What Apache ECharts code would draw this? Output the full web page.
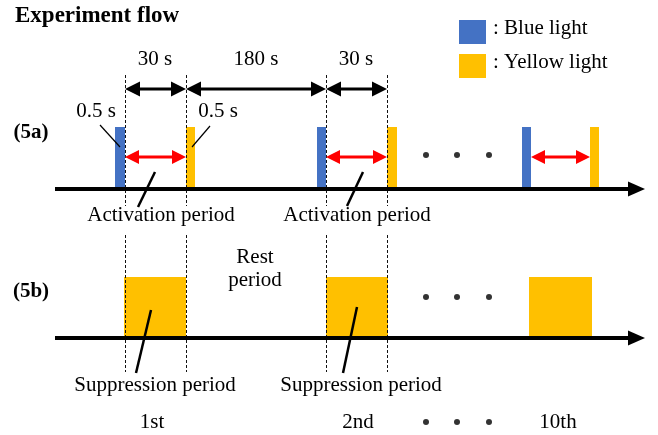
<!DOCTYPE html>
<html><head><meta charset="utf-8">
<script src="https://cdn.jsdelivr.net/npm/echarts@6/dist/echarts.min.js"></script>
<style>html,body{margin:0;padding:0;background:#fff}#c{width:658px;height:435px}</style>
</head><body><div id="c"></div>
<script>
// Schematic diagram: x = schematic timeline position, y = vertical level (downward)
const bluePulses = [[115, 125, 127, 188], [317, 326, 127, 188], [522, 531, 127, 188]];
const yellowPulses = [[186, 195, 127, 188], [387, 397, 127, 188], [590, 599, 127, 188]];
const suppressionBlocks = [[124, 186, 277, 338], [326, 388, 277, 338], [529, 592, 277, 338]];
const timelines = [[55, 645, 189], [55, 645, 338]];
const dashedMarks = [[125, 75, 206], [186, 75, 206], [326, 75, 206], [387, 75, 206],
                     [125, 235, 372], [186, 235, 372], [326, 235, 372], [387, 235, 372]];
const intervalArrows = [[125, 186, 89], [186, 326, 89], [326, 387, 89]];
const activationArrows = [[125, 186, 157], [326, 387, 157], [531, 590, 157]];
const thinLeaders = [[100, 125, 120, 147], [210, 126, 192, 147]];
const thickLeaders = [[155, 172, 138, 207], [363, 172, 347, 206], [151, 310, 136, 373], [357, 307, 343, 373]];
const ellipsisDots = [[426, 155], [457, 155], [489, 155], [426, 297], [457, 297], [489, 297], [426, 422], [457, 422], [489, 422]];
const labelTexts = ['30 s', '180 s', '30 s', '0.5 s', '0.5 s', 'Activation period', 'Activation period',
                    'Rest', 'period', 'Suppression period', 'Suppression period', '1st', '2nd', '10th'];
const labelPos = [[155, 59], [256, 59], [356, 59], [96, 111], [218, 111], [161, 215], [357, 215],
                  [255, 257], [255, 280], [155, 385], [361, 385], [152, 422], [358, 422], [558, 422]];
const rowLabels = ['(5a)', '(5b)'];
const rowLabelPos = [[31, 133], [31, 292]];

const FONT = '"Liberation Serif", "Times New Roman", serif';

function rectItem(params, api) {
  const p0 = api.coord([api.value(0), api.value(2)]);
  const p1 = api.coord([api.value(1), api.value(3)]);
  return { type: 'rect', shape: { x: p0[0], y: p0[1], width: p1[0] - p0[0], height: p1[1] - p0[1] },
           style: { fill: api.visual('color') } };
}
function head(tip, dir, len, half, color) {
  return { type: 'polygon', shape: { points: [[tip[0], tip[1]], [tip[0] - dir * len, tip[1] - half], [tip[0] - dir * len, tip[1] + half]] },
           style: { fill: color } };
}
function doubleArrow(color, lw, len, half) {
  return function (params, api) {
    const a = api.coord([api.value(0), api.value(2)]);
    const b = api.coord([api.value(1), api.value(2)]);
    return { type: 'group', children: [
      { type: 'line', shape: { x1: a[0] + len - 1, y1: a[1], x2: b[0] - len + 1, y2: b[1] }, style: { stroke: color, lineWidth: lw } },
      head(a, -1, len, half, color), head(b, 1, len, half, color)
    ] };
  };
}
function segItem(lw) {
  return function (params, api) {
    const a = api.coord([api.value(0), api.value(1)]);
    const b = api.coord([api.value(2), api.value(3)]);
    return { type: 'line', shape: { x1: a[0], y1: a[1], x2: b[0], y2: b[1] }, style: { stroke: '#000', lineWidth: lw } };
  };
}
function textSeries(names, pos, bold) {
  return {
    type: 'custom', silent: true, z: 10,
    data: pos,
    renderItem: function (params, api) {
      const p = api.coord([api.value(0), api.value(1)]);
      return { type: 'text', x: p[0], y: p[1], style: {
        text: names[params.dataIndex], fill: '#000', align: 'center', verticalAlign: 'middle',
        font: (bold ? 'bold ' : '') + '21px ' + FONT } };
    }
  };
}

const chart = echarts.init(document.getElementById('c'));
chart.setOption({
  animation: false,
  backgroundColor: '#fff',
  title: { text: 'Experiment flow', left: 10, top: 0,
           textStyle: { fontFamily: FONT, fontSize: 23, fontWeight: 'bold', color: '#000' } },
  legend: {
    orient: 'vertical', left: 459, top: 18, itemWidth: 27, itemHeight: 24, itemGap: 8, icon: 'rect',
    selectedMode: false, padding: 0,
    data: ['Blue light', 'Yellow light'],
    formatter: '{t|: {name}}',
    textStyle: { fontFamily: FONT, fontSize: 21, color: '#000',
                 rich: { t: { fontFamily: FONT, fontSize: 21, color: '#000', padding: [0, 0, 7, 2] } } }
  },
  grid: { left: 0, right: 0, top: 0, bottom: 0 },
  xAxis: { type: 'value', min: 0, max: 658, show: false },
  yAxis: { type: 'value', min: 0, max: 435, inverse: true, show: false },
  series: [
    { name: 'Blue light', type: 'custom', itemStyle: { color: '#4472C4' }, data: bluePulses, renderItem: rectItem, z: 2 },
    { name: 'Yellow light', type: 'custom', itemStyle: { color: '#FFC000' }, data: yellowPulses.concat(suppressionBlocks), renderItem: rectItem, z: 2 },
    { type: 'custom', silent: true, z: 3, data: dashedMarks,
      renderItem: function (params, api) {
        const a = api.coord([api.value(0), api.value(1)]);
        const b = api.coord([api.value(0), api.value(2)]);
        return { type: 'line', shape: { x1: a[0] + 0.5, y1: a[1], x2: b[0] + 0.5, y2: b[1] },
                 style: { stroke: '#111', lineWidth: 1, lineDash: [3, 2] } };
      } },
    { type: 'custom', silent: true, z: 4, data: timelines,
      renderItem: function (params, api) {
        const a = api.coord([api.value(0), api.value(2)]);
        const b = api.coord([api.value(1), api.value(2)]);
        return { type: 'group', children: [
          { type: 'line', shape: { x1: a[0], y1: a[1], x2: b[0] - 15, y2: b[1] }, style: { stroke: '#000', lineWidth: 4 } },
          head(b, 1, 17, 7.5, '#000') ] };
      } },
    { type: 'custom', silent: true, z: 4, data: intervalArrows, renderItem: doubleArrow('#000', 3, 15, 7.5) },
    { type: 'custom', silent: true, z: 4, data: activationArrows, renderItem: doubleArrow('#FF0000', 3, 14, 7) },
    { type: 'custom', silent: true, z: 5, data: thinLeaders, renderItem: segItem(1.2) },
    { type: 'custom', silent: true, z: 5, data: thickLeaders, renderItem: segItem(2.5) },
    { type: 'scatter', silent: true, z: 5, data: ellipsisDots, symbol: 'circle', symbolSize: 6, itemStyle: { color: '#000' } },
    textSeries(labelTexts, labelPos, false),
    textSeries(rowLabels, rowLabelPos, true)
  ]
});
</script></body></html>
